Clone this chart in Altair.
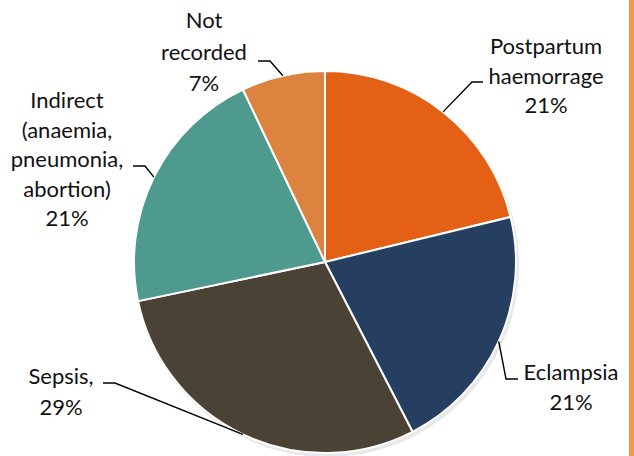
import math

import altair as alt
import pandas as pd

# Causes of maternal death, share of cases (%)
causes = [
    "Postpartum haemorrage",
    "Eclampsia",
    "Sepsis",
    "Indirect (anaemia, pneumonia, abortion)",
    "Not recorded",
]
shares = [21, 21, 29, 21, 7]
label_names = [
    ["Postpartum", "haemorrage"],
    ["Eclampsia"],
    ["Sepsis,"],
    ["Indirect", "(anaemia,", "pneumonia,", "abortion)"],
    ["Not", "recorded"],
]
colors = ["#E46014", "#263F61", "#4B4236", "#4E9A8E", "#DC843F"]

# Layout (pixels); label anchors are the centre of each label's first line
W, H = 634, 456
CX, CY, R = 325, 262, 191
label_xy = [(546, 47), (571, 373), (61, 377), (67, 101), (204, 21)]
line_h = [29.5, 29.5, 31, 29.5, 31.5]
elbow_xy = [(472, 82), (506, 379), (115, 383), (145, 166), (270, 61)]
tail_xy = [(483, 82), (518, 379), (103, 383), (133, 166), (258, 61)]

total = sum(shares)
pie_df = pd.DataFrame({"cause": causes, "share": shares, "order": list(range(len(causes)))})

# Leader lines run from each slice's mid-angle on the rim to an elbow, then to the label
rows = []
cum = 0
for i, (c, v) in enumerate(zip(causes, shares)):
    mid = (cum + v / 2) / total * 2 * math.pi
    cum += v
    ex, ey = CX + R * math.sin(mid), CY - R * math.cos(mid)
    for seq, (px, py) in enumerate([(ex, ey), elbow_xy[i], tail_xy[i]]):
        rows.append({"cause": c, "seq": seq, "x": px, "y": py})
lines_df = pd.DataFrame(rows)

# One text row per label line
trows = []
for i, (n, v) in enumerate(zip(label_names, shares)):
    for k, txt in enumerate(n + [f"{v}%"]):
        trows.append({"x": label_xy[i][0], "y": label_xy[i][1] + k * line_h[i], "label": txt})
text_df = pd.DataFrame(trows)

xs = alt.Scale(domain=[0, W], nice=False, zero=False)
ys = alt.Scale(domain=[0, H], nice=False, zero=False, reverse=True)

shadow = alt.Chart(pie_df).mark_arc(radius=R + 1, color="#7f7f7f", opacity=0.18).encode(
    theta=alt.Theta("share:Q", stack=True),
    order=alt.Order("order:Q"),
    x=alt.value(CX + 2),
    y=alt.value(CY + 3),
)

pie = alt.Chart(pie_df).mark_arc(radius=R, stroke="white", strokeWidth=2).encode(
    theta=alt.Theta("share:Q", stack=True),
    order=alt.Order("order:Q"),
    color=alt.Color("cause:N", scale=alt.Scale(domain=causes, range=colors), legend=None),
    x=alt.value(CX),
    y=alt.value(CY),
)

leaders = alt.Chart(lines_df).mark_line(color="black", strokeWidth=1.4).encode(
    x=alt.X("x:Q", scale=xs, axis=None),
    y=alt.Y("y:Q", scale=ys, axis=None),
    detail="cause:N",
    order="seq:Q",
)

labels = alt.Chart(text_df).mark_text(
    font="Lato", fontSize=22, align="center", baseline="middle", color="#111111",
).encode(
    x=alt.X("x:Q", scale=xs, axis=None),
    y=alt.Y("y:Q", scale=ys, axis=None),
    text="label:N",
)

edge_bar = alt.Chart(pie_df).mark_rect(color="#F79646").encode(
    x=alt.value(629), x2=alt.value(W), y=alt.value(0), y2=alt.value(H)
)

chart = alt.layer(shadow, pie, leaders, labels, edge_bar).properties(
    width=W, height=H, autosize="none", padding=0, background="white"
).configure_view(strokeWidth=0)

chart.save("out.html", embed_options={"renderer": "svg", "actions": False})
